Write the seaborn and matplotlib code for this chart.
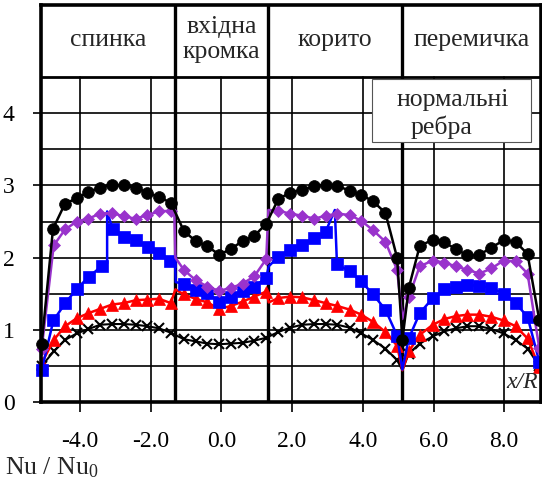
import matplotlib
matplotlib.use("Agg")
import matplotlib.pyplot as plt
import seaborn as sns
from matplotlib.patches import Rectangle

# ---------------- data ----------------
sections = ["спинка", "вхідна\nкромка", "корито", "перемичка"]
section_bounds = [-1.31, 1.31, 5.12]

xticks = [-4, -2, 0, 2, 4, 6, 8]
xtick_labels = ["-4.0", "-2.0", "0.0", "2.0", "4.0", "6.0", "8.0"]
yticks = [0, 1, 2, 3, 4]
ytick_labels = ["0", "1", "2", "3", "4"]

black_x = [-5.08, -4.76, -4.42, -4.09, -3.76, -3.43, -3.09, -2.76, -2.42, -2.09, -1.76, -1.43,
           -1.06, -0.73, -0.40, -0.06, 0.27, 0.60, 0.93, 1.27,
           1.61, 1.94, 2.29, 2.63, 2.95, 3.28, 3.63, 3.96, 4.29, 4.64, 4.97,
           5.12,
           5.30, 5.61, 5.98, 6.31, 6.63, 6.96, 7.30, 7.64, 7.98, 8.32, 8.66, 8.99]
black_y = [0.81, 2.40, 2.75, 2.82, 2.91, 2.97, 3.01, 3.00, 2.97, 2.90, 2.84, 2.76,
           2.37, 2.23, 2.16, 2.04, 2.12, 2.23, 2.30, 2.47,
           2.81, 2.90, 2.94, 2.99, 3.01, 2.99, 2.93, 2.87, 2.78, 2.62, 2.00,
           0.86,
           1.58, 2.16, 2.25, 2.21, 2.12, 2.03, 2.04, 2.14, 2.24, 2.22, 2.05, 1.14]
black_m = [1] * len(black_x)

purple_x = [-5.08, -4.74, -4.42, -4.09, -3.76, -3.43, -3.09, -2.76, -2.42, -2.09, -1.76, -1.43,
            -1.33, -1.30,
            -1.06, -0.73, -0.40, -0.06, 0.27, 0.60, 0.93, 1.27,
            1.33,
            1.61, 1.94, 2.29, 2.63, 2.95, 3.28, 3.63, 3.96, 4.29, 4.64, 4.97,
            5.12,
            5.30, 5.61, 5.98, 6.31, 6.63, 6.96, 7.30, 7.64, 7.98, 8.32, 8.66, 8.99]
purple_y = [0.74, 2.17, 2.39, 2.50, 2.54, 2.61, 2.62, 2.57, 2.54, 2.59, 2.64, 2.65,
            2.63, 2.00,
            1.83, 1.69, 1.60, 1.54, 1.58, 1.64, 1.74, 1.98,
            2.66,
            2.65, 2.61, 2.58, 2.54, 2.58, 2.61, 2.59, 2.51, 2.38, 2.22, 1.83,
            1.15,
            1.45, 1.88, 1.96, 1.93, 1.88, 1.83, 1.78, 1.85, 1.96, 1.95, 1.78, 0.75]
purple_m = [1] * 12 + [0, 0] + [1] * 8 + [0] + [1] * 11 + [0] + [1] * 12

blue_x = [-5.08, -4.75, -4.41, -4.09, -3.75, -3.37, -3.23, -3.23, -3.07, -2.76, -2.42, -2.07, -1.75, -1.44,
          -1.31, -1.29,
          -1.06, -0.73, -0.40, -0.06, 0.27, 0.60, 0.93, 1.27,
          1.34,
          1.61, 1.94, 2.29, 2.63, 2.95, 3.21, 3.27, 3.63, 3.96, 4.29, 4.64, 4.97,
          5.12,
          5.30, 5.61, 5.98, 6.31, 6.63, 6.96, 7.30, 7.64, 7.98, 8.32, 8.66, 8.99]
blue_y = [0.44, 1.13, 1.37, 1.57, 1.73, 1.89, 1.92, 2.64, 2.39, 2.29, 2.24, 2.15, 2.07, 1.96,
          1.95, 1.66,
          1.64, 1.55, 1.51, 1.39, 1.46, 1.54, 1.60, 1.72,
          1.88,
          2.01, 2.11, 2.18, 2.27, 2.36, 2.66, 1.91, 1.81, 1.67, 1.49, 1.28, 0.92,
          0.45,
          0.88, 1.23, 1.44, 1.56, 1.60, 1.62, 1.61, 1.58, 1.50, 1.37, 1.18, 0.56]
blue_m = [1] * 6 + [0, 0] + [1] * 6 + [0, 0] + [1] * 8 + [0] + [1] * 5 + [0] + [1] * 6 + [0] + [1] * 12

red_x = [-5.08, -4.74, -4.42, -4.09, -3.76, -3.43, -3.09, -2.76, -2.42, -2.09, -1.76, -1.43,
         -1.30,
         -1.06, -0.73, -0.40, -0.06, 0.27, 0.60, 0.93, 1.27,
         1.34,
         1.61, 1.94, 2.29, 2.63, 2.95, 3.28, 3.63, 3.96, 4.29, 4.64, 4.97,
         5.12,
         5.30, 5.61, 5.98, 6.31, 6.63, 6.96, 7.30, 7.64, 7.98, 8.32, 8.66, 8.99]
red_y = [0.54, 0.86, 1.05, 1.16, 1.23, 1.29, 1.35, 1.37, 1.41, 1.42, 1.43, 1.37,
         1.56,
         1.49, 1.43, 1.38, 1.29, 1.33, 1.39, 1.46, 1.53,
         1.38,
         1.44, 1.46, 1.45, 1.41, 1.37, 1.33, 1.28, 1.21, 1.11, 0.97, 0.78,
         0.44,
         0.70, 0.93, 1.07, 1.15, 1.19, 1.21, 1.21, 1.18, 1.13, 1.05, 0.88, 0.48]
red_m = [1] * 12 + [0] + [1] * 8 + [0] + [1] * 11 + [0] + [1] * 12

cross_x = [-5.08, -4.74, -4.42, -4.09, -3.76, -3.43, -3.09, -2.76, -2.42, -2.09, -1.76, -1.43,
           -1.06, -0.73, -0.40, -0.06, 0.27, 0.60, 0.93, 1.27,
           1.61, 1.94, 2.29, 2.63, 2.95, 3.28, 3.63, 3.96, 4.29, 4.64, 4.97,
           5.12,
           5.30, 5.61, 5.98, 6.31, 6.63, 6.96, 7.30, 7.64, 7.98, 8.32, 8.66, 8.99]
cross_y = [0.50, 0.70, 0.86, 0.95, 1.01, 1.07, 1.08, 1.08, 1.07, 1.05, 1.02, 0.96,
           0.87, 0.84, 0.81, 0.80, 0.81, 0.82, 0.85, 0.89,
           0.97, 1.03, 1.07, 1.08, 1.08, 1.07, 1.03, 0.95, 0.86, 0.74, 0.58,
           0.44,
           0.67, 0.81, 0.91, 0.98, 1.02, 1.05, 1.05, 1.01, 0.95, 0.86, 0.74, 0.50]
cross_m = [1] * 31 + [0] + [1] * 12

# ---------------- style ----------------
sns.set_theme(style="white")
plt.rcParams["font.family"] = ["Liberation Serif", "DejaVu Serif"]
plt.rcParams["mathtext.default"] = "regular"

XMIN, XMAX, YMIN, YMAX = -5.10, 9.04, 0.0, 5.5
HEADER = 4.5

fig = plt.figure(figsize=(5.42, 4.83), dpi=100)
ax = fig.add_axes([41 / 542, 1 - 402 / 483, 500 / 542, (402 - 5) / 483])
ax.set_xlim(XMIN, XMAX)
ax.set_ylim(YMIN, YMAX)

# grid
for yv in [0.5, 1.0, 1.5, 2.0, 2.5, 3.0, 3.5, 4.0]:
    ax.axhline(yv, color="black", lw=1.2, zorder=1)
ax.axhline(HEADER, color="black", lw=2.0, zorder=1)
for xv in xticks:
    ax.plot([xv, xv], [YMIN, HEADER], color="black", lw=1.2, zorder=1)
for xb in section_bounds:
    ax.axvline(xb, color="black", lw=2.4, zorder=2)

# series
series = [
    (cross_x, cross_y, cross_m, "black", "x", 7.5, 1.5),
    (red_x, red_y, red_m, "#ff0000", "^", 8.5, 1.8),
    (blue_x, blue_y, blue_m, "#0000ff", "s", 8, 1.8),
    (purple_x, purple_y, purple_m, "#9933cc", "D", 6, 1.8),
    (black_x, black_y, black_m, "black", "o", 8.5, 1.8),
]
for xs, ys, ms_mask, col, mk, msz, lw in series:
    sns.lineplot(x=xs, y=ys, sort=False, estimator=None, color=col, marker=mk,
                 markersize=msz, markeredgecolor=col,
                 markeredgewidth=1.5 if mk == "x" else 0.5,
                 linewidth=lw, ax=ax, zorder=3, clip_on=False)
    ax.lines[-1].set_markevery([bool(v) for v in ms_mask])

# header labels
bounds = [XMIN] + section_bounds + [XMAX]
for i, name in enumerate(sections):
    cx = (bounds[i] + bounds[i + 1]) / 2
    ax.text(cx, 5.02, name, ha="center", va="center", fontsize=18.5,
            linespacing=1.2, zorder=6)

# note box
ax.add_patch(Rectangle((4.25, 3.60), 4.51, 0.87, facecolor="white",
                       edgecolor="#555555", lw=0.8, zorder=5))
ax.text(6.54, 4.19, "нормальні", ha="center", va="center", fontsize=18.5, zorder=6)
ax.text(6.23, 3.81, "ребра", ha="center", va="center", fontsize=18.5, zorder=6)

ax.text(8.95, 0.27, "x/R", ha="right", va="center", fontsize=17,
        style="italic", zorder=6)

# axes
for sp in ax.spines.values():
    sp.set_visible(True)
    sp.set_color("black")
    sp.set_linewidth(2.6)
    sp.set_zorder(7)

ax.set_xticks(xticks)
ax.set_xticklabels(xtick_labels)
ax.set_yticks(yticks)
ax.set_yticklabels(ytick_labels)
ax.tick_params(axis="x", direction="out", length=7, width=1.2, pad=14,
               labelsize=17, colors="black", bottom=True)
ax.tick_params(axis="y", direction="out", length=6, width=1.2, pad=13,
               labelsize=17, colors="black", left=True)
ax.set_xlabel("")
ax.set_ylabel("")

fig.text(5 / 542, 1 - 468 / 483, "Nu / Nu$_0$", ha="left", va="center", fontsize=18.5)

fig.savefig("out.png", dpi=100)
